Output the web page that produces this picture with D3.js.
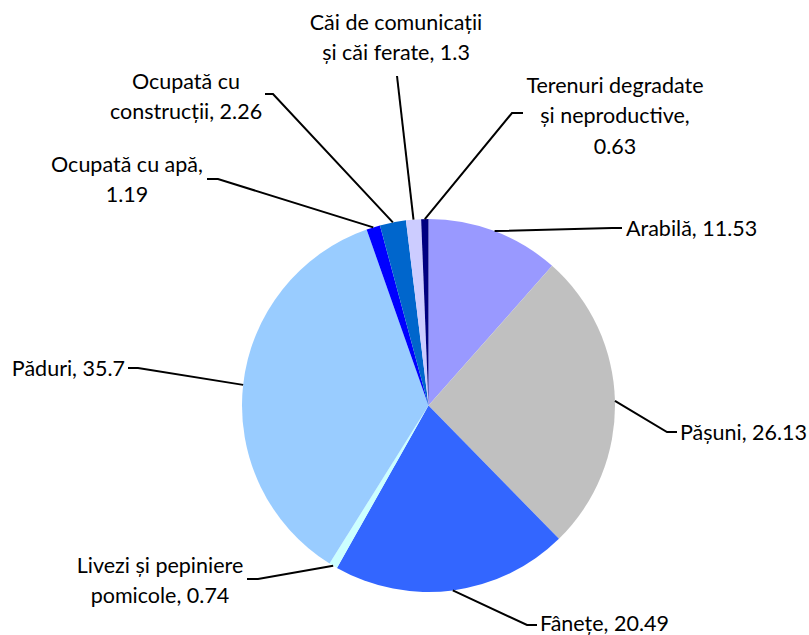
<!DOCTYPE html>
<html>
<head>
<meta charset="utf-8">
<style>
  body { margin: 0; background: #fff; }
  text { font-family: Lato, "Noto Sans", sans-serif; font-size: 21.5px; fill: #000; }
</style>
</head>
<body>
<svg id="svg"></svg>
<script src="https://d3js.org/d3.v7.min.js"></script>
<script>
  var categories = ["Arabilă", "Pășuni", "Fânețe", "Livezi și pepiniere pomicole", "Păduri",
    "Ocupată cu apă", "Ocupată cu construcții", "Căi de comunicații și căi ferate",
    "Terenuri degradate și neproductive"];
  var values = [11.53, 26.13, 20.49, 0.74, 35.7, 1.19, 2.26, 1.3, 0.63];
  var colors = ["#9999FF", "#C0C0C0", "#3366FF", "#CCFFFF", "#99CCFF",
    "#0000FF", "#0066CC", "#CCCCFF", "#000080"];
  // label text lines (name + value split like the original)
  var labelLines = [
    ["Arabilă, 11.53"],
    ["Pășuni, 26.13"],
    ["Fânețe, 20.49"],
    ["Livezi și pepiniere", "pomicole, 0.74"],
    ["Păduri, 35.7"],
    ["Ocupată cu apă,", "1.19"],
    ["Ocupată cu", "construcții, 2.26"],
    ["Căi de comunicații", "și căi ferate, 1.3"],
    ["Terenuri degradate", "și neproductive,", "0.63"]
  ];

  // layout of labels: elbow, end of leader, text anchor point
  var layout = [
    { elbow: [612, 228], end: [622, 228], tx: 626, ty: 228, anchor: "start" },
    { elbow: [667, 432], end: [677, 432], tx: 680, ty: 432, anchor: "start" },
    { elbow: [527, 625], end: [537, 625], tx: 540, ty: 623, anchor: "start" },
    { elbow: [258, 579], end: [247, 579], tx: 160, ty: 565, anchor: "middle" },
    { elbow: [138, 368], end: [128, 368], tx: 125, ty: 368, anchor: "end" },
    { elbow: [218, 179], end: [207, 179], tx: 127, ty: 164, anchor: "middle" },
    { elbow: [273, 94], end: [265, 94], tx: 186, ty: 81, anchor: "middle" },
    { elbow: [397, 76], end: [397, 76], tx: 396, ty: 22, anchor: "middle" },
    { elbow: [512, 113], end: [523, 113], tx: 615, ty: 85, anchor: "middle" }
  ];

  var width = 809, height = 635;
  var cx = 428.5, cy = 405.5, radius = 186.5, lineHeight = 30.5;

  var svg = d3.select("#svg").attr("width", width).attr("height", height);

  var pie = d3.pie().sort(null).value(function (d) { return d; });
  var arcs = pie(values);

  var arc = d3.arc().innerRadius(0).outerRadius(radius);
  var edge = d3.arc().innerRadius(radius).outerRadius(radius);

  var g = svg.append("g").attr("transform", "translate(" + cx + "," + cy + ")");

  g.selectAll("path.slice")
    .data(arcs)
    .enter()
    .append("path")
    .attr("class", "slice")
    .attr("d", arc)
    .attr("fill", function (d, i) { return colors[i]; });

  // LEADER LINES
  var line = d3.line();
  svg.selectAll("path.leader")
    .data(arcs)
    .enter()
    .append("path")
    .attr("class", "leader")
    .attr("d", function (d, i) {
      var p = edge.centroid(d);
      var L = layout[i];
      return line([[p[0] + cx, p[1] + cy], L.elbow, L.end]);
    })
    .attr("fill", "none")
    .attr("stroke", "#000")
    .attr("stroke-width", 2);

  // LABELS
  var labels = svg.selectAll("text.label")
    .data(arcs)
    .enter()
    .append("text")
    .attr("class", "label")
    .attr("text-anchor", function (d, i) { return layout[i].anchor; })
    .attr("x", function (d, i) { return layout[i].tx; })
    .attr("y", function (d, i) { return layout[i].ty; });

  labels.each(function (d, i) {
    var t = d3.select(this);
    labelLines[i].forEach(function (s, k) {
      t.append("tspan")
        .attr("x", layout[i].tx)
        .attr("y", layout[i].ty + k * lineHeight)
        .attr("dy", "0.35em")
        .text(s);
    });
  });
</script>
</body>
</html>
